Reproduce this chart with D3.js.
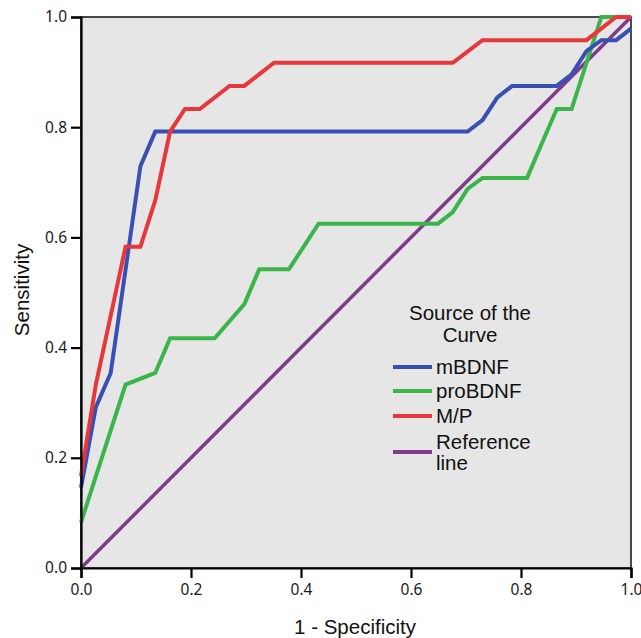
<!DOCTYPE html>
<html>
<head>
<meta charset="utf-8">
<script src="https://cdn.jsdelivr.net/npm/d3@7"></script>
<style>
  body { margin: 0; background: #ffffff; }
  svg { display: block; }
</style>
</head>
<body>
<div id="chart"></div>
<script>
// ROC curve data: [1 - specificity, sensitivity]
var mbdnf = [[0, 0.146], [0.027, 0.292], [0.054, 0.354], [0.108, 0.729], [0.135, 0.792],
    [0.703, 0.792], [0.730, 0.813], [0.757, 0.854], [0.784, 0.875], [0.865, 0.875],
    [0.892, 0.896], [0.919, 0.938], [0.946, 0.958], [0.973, 0.958], [1, 0.979]];
var probdnf = [[0, 0.083], [0.081, 0.333], [0.135, 0.354], [0.162, 0.417], [0.243, 0.417],
    [0.297, 0.479], [0.324, 0.542], [0.378, 0.542], [0.432, 0.625], [0.649, 0.625],
    [0.676, 0.646], [0.703, 0.688], [0.730, 0.708], [0.811, 0.708], [0.838, 0.771],
    [0.865, 0.833], [0.892, 0.833], [0.946, 1.0], [1, 1]];
var mp = [[0, 0.167], [0.027, 0.333], [0.081, 0.583], [0.108, 0.583], [0.135, 0.667],
    [0.162, 0.792], [0.189, 0.833], [0.216, 0.833], [0.270, 0.875], [0.297, 0.875],
    [0.351, 0.917], [0.676, 0.917], [0.730, 0.958], [0.919, 0.958], [0.973, 1.0], [1, 1]];
var refLine = [[0, 0], [1, 1]];

var seriesNames = ["mBDNF", "proBDNF", "M/P", "Reference\nline"];
var tickValues = [0, 0.2, 0.4, 0.6, 0.8, 1.0];

(function () {
    var margin = {top: 17, right: 10, bottom: 70, left: 81},
        width = 550,
        height = 551;

    var colors = ["#3a4fb3", "#39b54a", "#e8373a", "#7f3a8a"];
    var allSeries = [mbdnf, probdnf, mp, refLine];

    var svg = d3.select("#chart").append("svg")
        .attr("width", 641)
        .attr("height", 638);

    var g = svg.append("g")
        .attr("transform", "translate(" + margin.left + "," + margin.top + ")");

    var x = d3.scaleLinear().domain([0, 1]).range([0, width]);
    var y = d3.scaleLinear().domain([0, 1]).range([height, 0]);

    // plot background
    g.append("rect")
        .attr("x", 0).attr("y", 0)
        .attr("width", width).attr("height", height)
        .attr("fill", "#e6e6e6")
        .attr("stroke", "#111")
        .attr("stroke-width", 1.5);

    var line = d3.line()
        .x(function (d) { return x(d[0]); })
        .y(function (d) { return y(d[1]); });

    // curves, reference line drawn first then the rest on top
    var order = [3, 1, 0, 2];
    order.forEach(function (i) {
        g.append("path")
            .datum(allSeries[i])
            .attr("fill", "none")
            .attr("stroke", colors[i])
            .attr("stroke-width", i == 3 ? 3.5 : 4)
            .attr("stroke-linejoin", "miter")
            .attr("d", line);
    });

    // axes
    var xAxis = d3.axisBottom(x).tickValues(tickValues).tickSize(10).tickPadding(6)
        .tickFormat(d3.format(".1f"));
    var yAxis = d3.axisLeft(y).tickValues(tickValues).tickSize(10).tickPadding(4)
        .tickFormat(d3.format(".1f"));

    var gx = g.append("g")
        .attr("transform", "translate(0," + height + ")")
        .call(xAxis);
    var gy = g.append("g").call(yAxis);

    [gx, gy].forEach(function (a) {
        a.select(".domain").attr("stroke", "#000").attr("stroke-width", 2.2);
        a.selectAll(".tick line").attr("stroke", "#000").attr("stroke-width", 2.2);
        a.selectAll(".tick text")
            .style("font-family", "Noto Sans")
            .style("font-size", "15.5px")
            .style("fill", "#1a1a1a");
    });

    // axis titles
    svg.append("text")
        .attr("x", 355)
        .attr("y", 634)
        .attr("text-anchor", "middle")
        .style("font-family", "Liberation Sans")
        .style("font-size", "20.5px")
        .style("fill", "#111")
        .text("1 - Specificity");

    svg.append("text")
        .attr("transform", "translate(29,290) rotate(-90)")
        .attr("text-anchor", "middle")
        .style("font-family", "Liberation Sans")
        .style("font-size", "20.5px")
        .style("fill", "#111")
        .text("Sensitivity");

    // legend
    var legend = svg.append("g");
    var legendFont = {family: "Liberation Sans", size: "20.5px"};

    legend.selectAll(".ltitle")
        .data(["Source of the", "Curve"])
        .enter().append("text")
        .attr("x", 470)
        .attr("y", function (d, i) { return 320 + i * 22; })
        .attr("text-anchor", "middle")
        .style("font-family", legendFont.family)
        .style("font-size", legendFont.size)
        .style("fill", "#111")
        .text(function (d) { return d; });

    var rowY = [367, 391, 416, 452];
    seriesNames.forEach(function (name, i) {
        legend.append("line")
            .attr("x1", 393).attr("x2", 432)
            .attr("y1", rowY[i]).attr("y2", rowY[i])
            .attr("stroke", colors[i])
            .attr("stroke-width", 4);
        var parts = name.split("\n");
        var startY = rowY[i] - (parts.length - 1) * 10.5;
        parts.forEach(function (p, j) {
            legend.append("text")
                .attr("x", 436)
                .attr("y", startY + j * 21)
                .attr("dy", "0.36em")
                .style("font-family", legendFont.family)
                .style("font-size", legendFont.size)
                .style("fill", "#111")
                .text(p);
        });
    });
})();
</script>
</body>
</html>
